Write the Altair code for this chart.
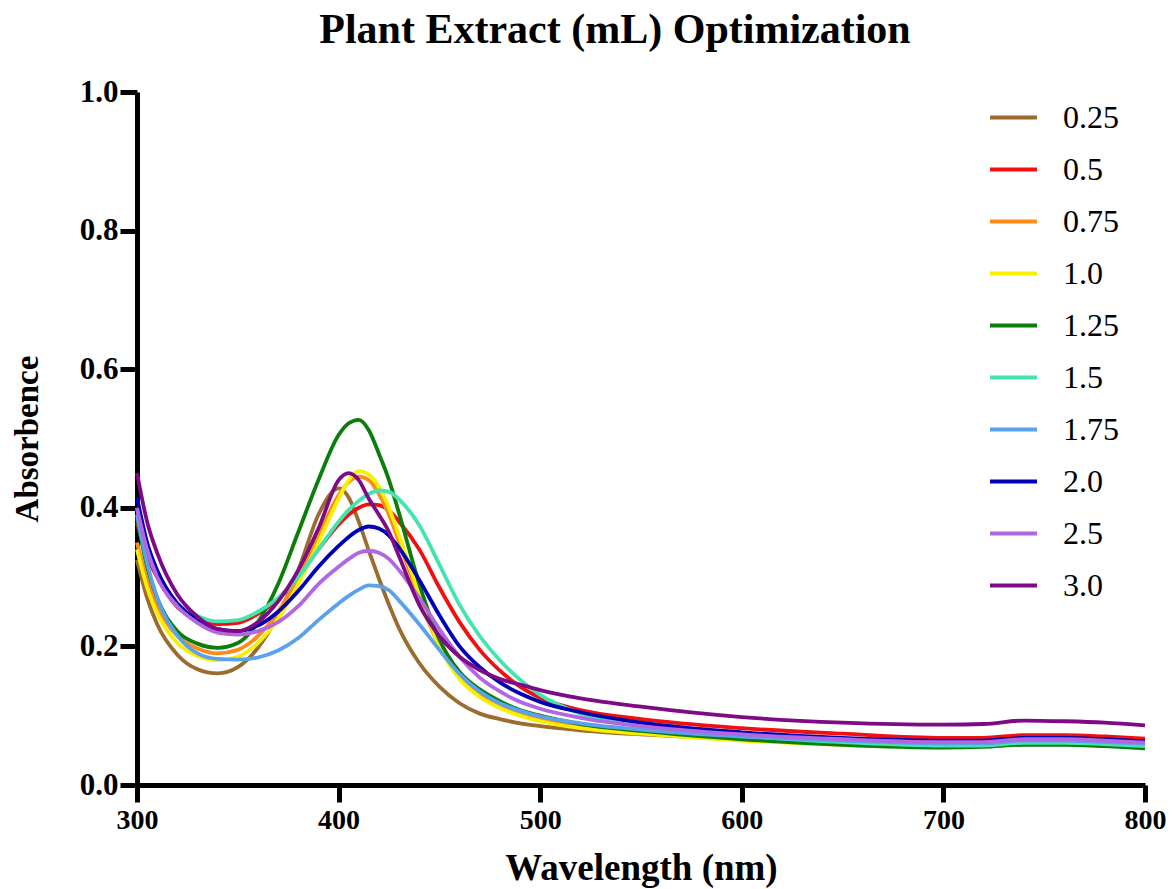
import altair as alt
import pandas as pd

wavelength = [300, 305, 310, 320, 330, 340, 350, 360, 370, 380,
              390, 400, 405, 410, 415, 420, 425, 430, 440, 450,
              460, 470, 480, 490, 500, 520, 550, 600, 650, 700,
              720, 740, 760, 780, 800]

series_labels = ["0.25", "0.5", "0.75", "1.0", "1.25", "1.5", "1.75", "2.0", "2.5", "3.0"]
series_colors = ["#9C6B30", "#F01010", "#FF8A1C", "#F8F000", "#0A7D0A",
                 "#44E3B0", "#5AA2EC", "#0000B4", "#B266E0", "#7E0A86"]

a_025 = [0.325, 0.27, 0.232, 0.188, 0.167, 0.161, 0.17, 0.198, 0.245, 0.31,
         0.39, 0.428, 0.415, 0.38, 0.338, 0.298, 0.26, 0.226, 0.176, 0.142,
         0.118, 0.103, 0.095, 0.089, 0.085, 0.079, 0.073, 0.066, 0.061, 0.058,
         0.06, 0.064, 0.064, 0.062, 0.06]
a_05 = [0.378, 0.33, 0.3, 0.257, 0.24, 0.232, 0.234, 0.247, 0.268, 0.3,
        0.34, 0.376, 0.39, 0.4, 0.405, 0.404, 0.396, 0.38, 0.34, 0.285,
        0.235, 0.195, 0.165, 0.142, 0.126, 0.108, 0.095, 0.082, 0.074, 0.068,
        0.068, 0.072, 0.072, 0.07, 0.067]
a_075 = [0.35, 0.295, 0.258, 0.215, 0.197, 0.19, 0.195, 0.215, 0.25, 0.3,
         0.36, 0.418, 0.437, 0.445, 0.44, 0.42, 0.39, 0.35, 0.27, 0.2,
         0.158, 0.132, 0.115, 0.104, 0.096, 0.086, 0.077, 0.066, 0.06, 0.057,
         0.058, 0.062, 0.062, 0.06, 0.058]
a_10 = [0.34, 0.285, 0.248, 0.205, 0.186, 0.18, 0.185, 0.205, 0.24, 0.29,
        0.35, 0.413, 0.44, 0.453, 0.448, 0.43, 0.4, 0.36, 0.275, 0.2,
        0.153, 0.127, 0.111, 0.1, 0.092, 0.082, 0.074, 0.064, 0.058, 0.055,
        0.056, 0.06, 0.06, 0.058, 0.056]
a_125 = [0.385, 0.315, 0.27, 0.222, 0.204, 0.198, 0.205, 0.235, 0.29, 0.365,
         0.44, 0.505, 0.522, 0.527, 0.512, 0.478, 0.44, 0.392, 0.29, 0.21,
         0.163, 0.138, 0.121, 0.108, 0.1, 0.088, 0.078, 0.066, 0.058, 0.054,
         0.055, 0.058, 0.058, 0.056, 0.053]
a_15 = [0.4, 0.34, 0.305, 0.262, 0.244, 0.236, 0.238, 0.25, 0.27, 0.3,
        0.34, 0.38, 0.397, 0.41, 0.42, 0.425, 0.423, 0.412, 0.375, 0.318,
        0.26, 0.215, 0.18, 0.152, 0.13, 0.103, 0.085, 0.071, 0.062, 0.057,
        0.057, 0.061, 0.061, 0.059, 0.056]
a_175 = [0.39, 0.32, 0.27, 0.216, 0.19, 0.182, 0.181, 0.184, 0.194, 0.212,
         0.238, 0.262, 0.273, 0.282, 0.288, 0.287, 0.281, 0.266, 0.232, 0.195,
         0.16, 0.135, 0.118, 0.107, 0.099, 0.089, 0.08, 0.07, 0.064, 0.06,
         0.06, 0.064, 0.064, 0.062, 0.06]
a_20 = [0.415, 0.35, 0.31, 0.262, 0.238, 0.225, 0.222, 0.23, 0.25, 0.28,
        0.315, 0.345, 0.358, 0.368, 0.373, 0.37, 0.36, 0.342, 0.296, 0.245,
        0.2, 0.17, 0.148, 0.132, 0.12, 0.105, 0.09, 0.076, 0.068, 0.064,
        0.064, 0.068, 0.068, 0.066, 0.063]
a_25 = [0.4, 0.34, 0.3, 0.258, 0.234, 0.22, 0.217, 0.222, 0.235, 0.258,
        0.29, 0.315, 0.326, 0.335, 0.338, 0.335, 0.326, 0.31, 0.27, 0.225,
        0.185, 0.155, 0.135, 0.12, 0.11, 0.097, 0.085, 0.073, 0.066, 0.062,
        0.062, 0.066, 0.066, 0.064, 0.061]
a_30 = [0.45, 0.38, 0.335, 0.275, 0.243, 0.225, 0.222, 0.235, 0.265, 0.31,
        0.37, 0.44, 0.45, 0.44, 0.413, 0.39, 0.365, 0.33, 0.26, 0.215,
        0.185, 0.166, 0.153, 0.145, 0.137, 0.125, 0.113, 0.098, 0.09, 0.087,
        0.088, 0.093, 0.092, 0.09, 0.086]

all_series = [a_025, a_05, a_075, a_10, a_125, a_15, a_175, a_20, a_25, a_30]

rows = []
for label, vals in zip(series_labels, all_series):
    for w, a in zip(wavelength, vals):
        rows.append({"Extract": label, "Wavelength": w, "Absorbance": a})
df = pd.DataFrame(rows)

FONT = "Liberation Serif"

chart = alt.Chart(df).mark_line(interpolate="monotone", strokeWidth=3.8).encode(
    x=alt.X("Wavelength:Q",
            scale=alt.Scale(domain=[300, 800], nice=False, zero=False),
            axis=alt.Axis(values=[300, 400, 500, 600, 700, 800], title="Wavelength (nm)",
                          format="d", grid=False, labelFlush=False)),
    y=alt.Y("Absorbance:Q",
            scale=alt.Scale(domain=[0, 1], nice=False),
            axis=alt.Axis(values=[0, 0.2, 0.4, 0.6, 0.8, 1.0], title="Absorbence",
                          format=".1f", grid=False, labelFlush=False)),
    color=alt.Color("Extract:N",
                    scale=alt.Scale(domain=series_labels, range=series_colors),
                    sort=series_labels,
                    legend=alt.Legend(title=None, orient="none", legendX=851, legendY=0,
                                      symbolType="stroke", symbolSize=2209,
                                      symbolStrokeWidth=4, labelFont=FONT,
                                      labelFontSize=32, labelColor="black",
                                      rowPadding=10, labelOffset=24, padding=0)),
    order=alt.Order("Wavelength:Q"),
).properties(
    width=1008,
    height=693,
    background="white",
    title=alt.TitleParams("Plant Extract (mL) Optimization", font=FONT, fontSize=42,
                          fontWeight="bold", anchor="middle", frame="group",
                          offset=24, color="black", dx=-26),
    padding={"left": 137, "top": 92, "right": 27, "bottom": 104},
    autosize=alt.AutoSizeParams(type="none"),
).configure_view(
    stroke=None
).configure_axis(
    domainColor="black", domainWidth=5, tickColor="black", tickWidth=5, tickSize=17,
    labelFont=FONT, labelFontWeight="bold", labelColor="black",
    titleFont=FONT, titleFontWeight="bold", titleColor="black",
).configure_axisX(
    labelFontSize=28, labelPadding=4, titleFontSize=37, titlePadding=16,
).configure_axisY(
    labelFontSize=31, labelPadding=2, titleFontSize=33, titlePadding=35,
)

chart.save("out.html", embed_options={"renderer": "svg", "actions": False})
